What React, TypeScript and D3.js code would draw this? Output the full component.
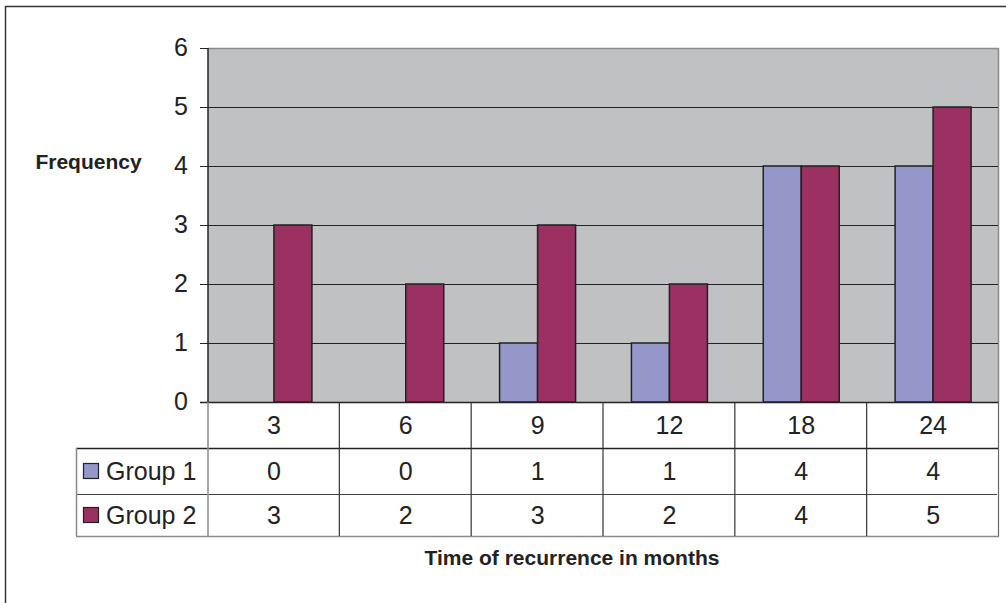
import React from "react";
import * as d3 from "d3";

const categories = ["3", "6", "9", "12", "18", "24"];
const group1 = [0, 0, 1, 1, 4, 4];
const group2 = [3, 2, 3, 2, 4, 5];
const seriesNames = ["Group 1", "Group 2"];
const seriesColors = ["#9597c8", "#9b3163"];
const yTicks = [0, 1, 2, 3, 4, 5, 6];

const W = 1006;
const H = 603;
const plot = { left: 208, right: 999, top: 48, bottom: 402 };
const rowBottoms = [448, 494, 536];
const tableLeft = 76;
const font = "'Liberation Sans', Arial, Helvetica, sans-serif";
const fs = 25;

export default function App() {
  const x = d3.scaleBand<string>().domain(categories).range([plot.left, plot.right]);
  const y = d3.scaleLinear().domain([0, 6]).range([plot.bottom, plot.top]);
  const barW = 38;
  const series = [group1, group2];

  return (
    <svg width={W} height={H} style={{ position: "absolute", left: 0, top: 0, background: "#fff" }}>
      {/* outer frame */}
      <path d={`M5.5,${H + 2} V6.5 H${W + 2}`} fill="none" stroke="#333" strokeWidth={1.5} />

      {/* plot background */}
      <rect x={plot.left} y={plot.top} width={plot.right - plot.left} height={plot.bottom - plot.top} fill="#c0c1c3" />
      <path d={`M${plot.left},${plot.top + 0.5} H${plot.right - 0.5} V${plot.bottom}`} fill="none" stroke="#8a8a8a" strokeWidth={1.5} />

      {/* gridlines and ticks */}
      {yTicks.map((t) => (
        <g key={t}>
          {t > 0 && t < 6 && (
            <line x1={plot.left} x2={plot.right - 1} y1={Math.round(y(t)) + 0.5} y2={Math.round(y(t)) + 0.5} stroke="#222" strokeWidth={1} />
          )}
          <line x1={200} x2={plot.left} y1={Math.round(y(t)) + 0.5} y2={Math.round(y(t)) + 0.5} stroke="#222" strokeWidth={1} />
          <text x={188} y={y(t) - 1} dy="0.36em" textAnchor="end" fontFamily={font} fontSize={fs} fill="#222">
            {t}
          </text>
        </g>
      ))}

      {/* bars */}
      {categories.map((c, i) => {
        const cx = (x(c) as number) + x.bandwidth() / 2;
        return series.map((s, si) => {
          const v = s[i];
          if (v <= 0) return null;
          const bx = cx - barW + si * barW;
          return (
            <rect
              key={`${c}-${si}`}
              x={bx}
              y={y(v)}
              width={barW}
              height={y(0) - y(v)}
              fill={seriesColors[si]}
              stroke="#222"
              strokeWidth={1.5}
            />
          );
        });
      })}

      {/* axis line */}
      <line x1={plot.left} x2={plot.left} y1={plot.top} y2={plot.bottom} stroke="#222" strokeWidth={1.5} />
      <line x1={200} x2={plot.right} y1={plot.bottom + 0.5} y2={plot.bottom + 0.5} stroke="#222" strokeWidth={1.5} />

      {/* data table */}
      <line x1={tableLeft} x2={plot.right} y1={rowBottoms[0] + 0.5} y2={rowBottoms[0] + 0.5} stroke="#222" strokeWidth={1.5} />
      <line x1={tableLeft} x2={plot.right - 2} y1={rowBottoms[1] + 0.5} y2={rowBottoms[1] + 0.5} stroke="#444" strokeWidth={1.2} />
      <line x1={tableLeft} x2={plot.right} y1={rowBottoms[2] + 0.5} y2={rowBottoms[2] + 0.5} stroke="#8a8a8a" strokeWidth={1.5} />
      <line x1={tableLeft + 0.5} x2={tableLeft + 0.5} y1={rowBottoms[0]} y2={rowBottoms[2]} stroke="#8a8a8a" strokeWidth={1.5} />
      <line x1={plot.left} x2={plot.left} y1={plot.bottom} y2={rowBottoms[2]} stroke="#8a8a8a" strokeWidth={1.5} />
      {categories.map((c, i) => {
        const xr = (x(c) as number) + x.bandwidth();
        return (
          <line
            key={`v-${c}`}
            x1={xr - 0.5}
            x2={xr - 0.5}
            y1={plot.bottom}
            y2={rowBottoms[2]}
            stroke={i === categories.length - 1 ? "#666" : "#333"}
            strokeWidth={1.2}
          />
        );
      })}

      {/* header row: categories */}
      {categories.map((c) => (
        <text
          key={`h-${c}`}
          x={(x(c) as number) + x.bandwidth() / 2}
          y={(plot.bottom + rowBottoms[0]) / 2}
          dy="0.36em"
          textAnchor="middle"
          fontFamily={font}
          fontSize={fs}
          fill="#222"
        >
          {c}
        </text>
      ))}

      {/* series rows */}
      {series.map((s, si) => {
        const top = rowBottoms[si];
        const bottom = rowBottoms[si + 1];
        const cy = (top + bottom) / 2;
        return (
          <g key={`row-${si}`}>
            <rect x={83.5} y={cy - 7.5} width={15} height={15} fill={seriesColors[si]} stroke="#222" strokeWidth={1.2} />
            <text x={106} y={cy} dy="0.36em" fontFamily={font} fontSize={fs} fill="#222">
              {seriesNames[si]}
            </text>
            {categories.map((c, i) => (
              <text
                key={`${si}-${c}`}
                x={(x(c) as number) + x.bandwidth() / 2}
                y={cy}
                dy="0.36em"
                textAnchor="middle"
                fontFamily={font}
                fontSize={fs}
                fill="#222"
              >
                {s[i]}
              </text>
            ))}
          </g>
        );
      })}

      {/* axis titles */}
      <text x={88.5} y={161} dy="0.36em" textAnchor="middle" fontFamily={font} fontSize={21} fontWeight="bold" fill="#222">
        Frequency
      </text>
      <text x={572} y={557} dy="0.36em" textAnchor="middle" fontFamily={font} fontSize={21} fontWeight="bold" fill="#222">
        Time of recurrence in months
      </text>
    </svg>
  );
}
